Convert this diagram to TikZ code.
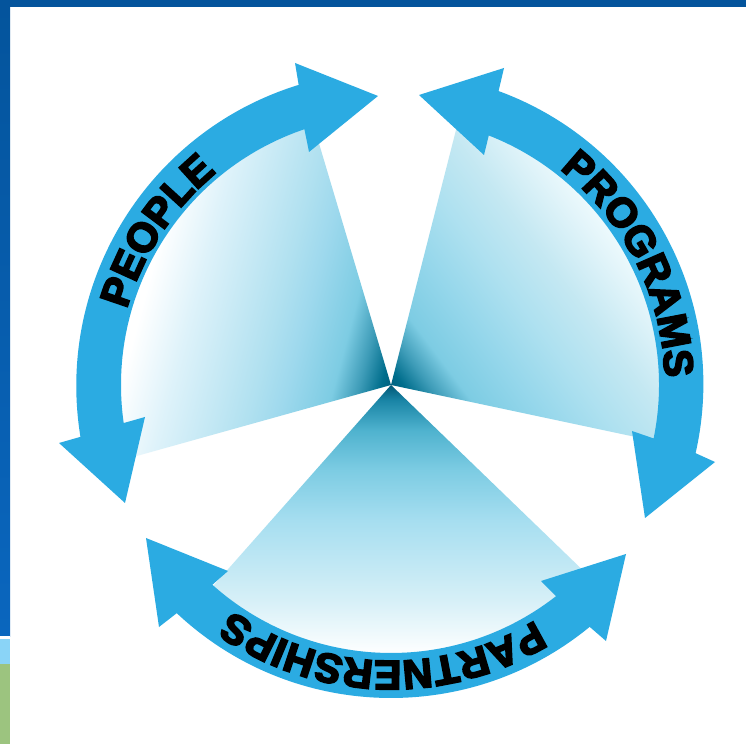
\documentclass[tikz,border=0pt]{standalone}
\usepackage{fontspec}
\usetikzlibrary{decorations.text}
\newfontfamily\hv[BoldFeatures={FakeBold=4.5}]{Liberation Sans}
\newcommand{\bandfont}{\hv\bfseries\fontsize{41}{41}\selectfont}
\definecolor{arrowblue}{HTML}{2BABE2}
\definecolor{bandblue}{HTML}{04549C}
\definecolor{barlow}{HTML}{0A66BE}
\definecolor{barsky}{HTML}{8AD4F7}
\definecolor{bargreen}{HTML}{9CC47F}
\pgfdeclarehorizontalshading{secgrad}{100bp}{
 rgb(0bp)=(0,0.34,0.46);
 rgb(50bp)=(0,0.34,0.46);
 rgb(51.4bp)=(0.10,0.52,0.65);
 rgb(54.2bp)=(0.31,0.70,0.81);
 rgb(57.9bp)=(0.49,0.80,0.89);
 rgb(62.5bp)=(0.65,0.87,0.94);
 rgb(69.9bp)=(0.84,0.94,0.97);
 rgb(75bp)=(1,1,1);
 rgb(100bp)=(1,1,1)}
\pgfdeclarehorizontalshading{leftgrad}{100bp}{
 rgb(0bp)=(0,0.38,0.50);
 rgb(50bp)=(0,0.38,0.50);
 rgb(50.9bp)=(0,0.43,0.55);
 rgb(52.8bp)=(0.24,0.61,0.72);
 rgb(55.1bp)=(0.49,0.80,0.89);
 rgb(59.3bp)=(0.62,0.85,0.93);
 rgb(62bp)=(0.69,0.88,0.94);
 rgb(69.7bp)=(0.87,0.95,0.98);
 rgb(74.3bp)=(1,1,1);
 rgb(100bp)=(1,1,1)}
\pgfdeclarehorizontalshading{rightgrad}{100bp}{
 rgb(0bp)=(0,0.38,0.50);
 rgb(50bp)=(0,0.38,0.50);
 rgb(50.9bp)=(0,0.43,0.55);
 rgb(52.8bp)=(0.24,0.61,0.72);
 rgb(55.1bp)=(0.49,0.80,0.89);
 rgb(59.3bp)=(0.58,0.84,0.92);
 rgb(63.9bp)=(0.68,0.88,0.94);
 rgb(68.5bp)=(0.77,0.91,0.95);
 rgb(73.2bp)=(0.89,0.96,0.98);
 rgb(75bp)=(0.93,0.98,0.99);
 rgb(100bp)=(0.95,0.98,0.99)}
\tikzset{
 arrowshape/.style={fill=arrowblue,draw=none},
 bandtext/.style={decorate,decoration={text along path,text align={fit to path},text={|\bandfont|#1}}}
}
\begin{document}
\begin{tikzpicture}[x=1pt,y=1pt]
\useasboundingbox (0,0) rectangle (746,744);
\fill[white] (0,0) rectangle (746,744);
% frame
\fill[bandblue] (0,737) rectangle (746,744);
\shade[bottom color=barlow,top color=bandblue] (0,108) rectangle (10,744);
\fill[white] (0,105) rectangle (10,108);
\fill[barsky] (0,80) rectangle (10,105);
\fill[bargreen] (0,0) rectangle (10,80);
\coordinate (c) at (391,359);
\begin{scope}[shift={(c)}]
% sectors
\begin{scope}
 \clip (0,0) -- (106.6:270) arc[start angle=106.6,end angle=195.6,radius=270] -- cycle;
 \shade[shading=leftgrad,shading angle=165] (-270,-270) rectangle (270,270);
\end{scope}
\begin{scope}
 \clip (0,0) -- (75.7:269) arc[start angle=75.7,end angle=-12,radius=269] -- cycle;
 \shade[shading=rightgrad,shading angle=37] (-270,-270) rectangle (270,270);
\end{scope}
\begin{scope}
 \clip (0,0) -- (228.5:269) arc[start angle=228.5,end angle=316,radius=269] -- cycle;
 \shade[shading=secgrad,shading angle=-90] (-270,-270) rectangle (270,270);
\end{scope}
% arrows
\path[arrowshape] (107.1:314) arc[start angle=107.1,end angle=189.3,radius=315]
 -- (-332,-58) -- (-266,-118) -- (-246,-32) -- (188.1:270)
 arc[start angle=188.1,end angle=108.7,radius=270]
 -- (-82,233) -- (-13,289) -- (-96,322) -- cycle;
\path[arrowshape] (69.9:313) arc[start angle=69.9,end angle=-12.8,radius=312]
 -- (324,-77) -- (254,-133) -- (241,-46) -- (-11.5:268)
 arc[start angle=-11.5,end angle=68.6,radius=268]
 -- (93,230) -- (28,290) -- (113,317) -- cycle;
\path[arrowshape] (-50.6:313) arc[start angle=-50.6,end angle=-133.2,radius=313]
 -- (-232,-242) -- (-245,-153) -- (-163,-186) -- (-131.8:268)
 arc[start angle=-131.8,end angle=-52,radius=268]
 -- (150,-196) -- (235,-169) -- (215,-256) -- cycle;
% labels
\path[bandtext=PEOPLE] (164:275) arc[start angle=164,end angle=130,radius=275];
\path[bandtext=PROGRAMS] (52:274) arc[start angle=52,end angle=2.5,radius=274];
\path[bandtext=PARTNERSHIPS] (-58.5:276) arc[start angle=-58.5,end angle=-125,radius=276];
\end{scope}
\end{tikzpicture}
\end{document}
